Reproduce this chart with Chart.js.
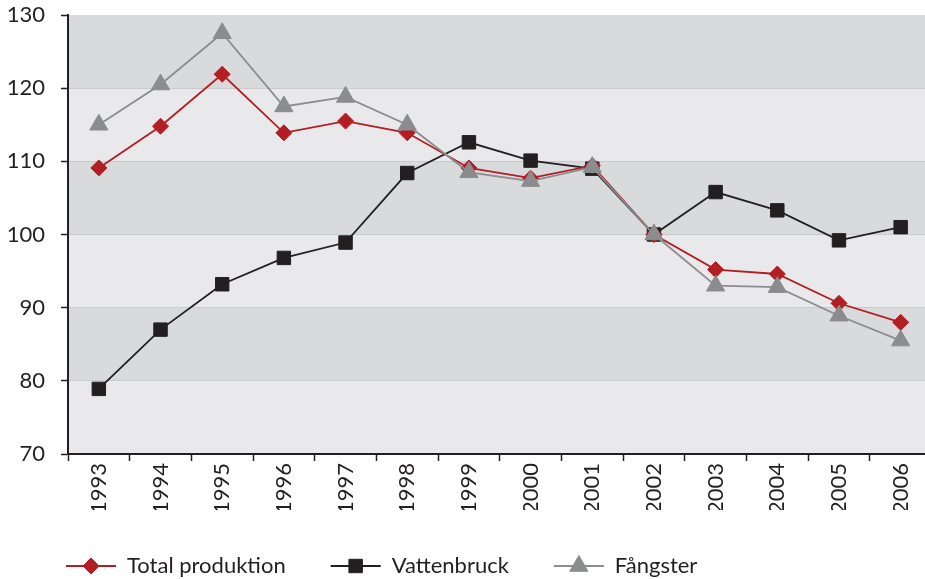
<!DOCTYPE html>
<html>
<head>
<meta charset="utf-8">
<script src="https://cdn.jsdelivr.net/npm/chart.js@4"></script>
<style>
  html, body { margin: 0; padding: 0; background: #fff; overflow: hidden; }
  #wrap { width: 943px; height: 587px; }
</style>
</head>
<body>
<div id="wrap"><canvas id="myChart" width="943" height="587"></canvas></div>
<script>
// data (index values)
const years = ['1993', '1994', '1995', '1996', '1997', '1998', '1999', '2000', '2001', '2002', '2003', '2004', '2005', '2006'];
const totalProduktion = [109.1, 114.8, 121.9, 113.9, 115.5, 113.9, 109.1, 107.7, 109.4, 100.0, 95.2, 94.6, 90.6, 88.0];
const vattenbruck = [78.9, 87.0, 93.2, 96.8, 98.9, 108.4, 112.6, 110.1, 109.0, 100.0, 105.8, 103.3, 99.2, 101.0];
const fangster = [115.0, 120.5, 127.5, 117.5, 118.8, 115.0, 108.5, 107.3, 109.2, 100.0, 93.0, 92.8, 88.9, 85.5];

const textColor = '#231f20';
const bandDark = '#d9dadc';
const bandLight = '#e9e9eb';

Chart.defaults.font.family = 'Lato';
Chart.defaults.font.size = 22;
Chart.defaults.color = textColor;

// grey bands behind the plot, every 10 units
const bands = {
    id: 'bands',
    beforeDraw(chart) {
        const ctx = chart.ctx;
        const area = chart.chartArea;
        const y = chart.scales.y;
        for (let v = y.min; v < y.max; v += 10) {
            const top = y.getPixelForValue(v + 10);
            const bottom = y.getPixelForValue(v);
            ctx.fillStyle = ((v - y.min) / 10) % 2 === 0 ? bandLight : bandDark;
            ctx.fillRect(area.left, top, area.right - area.left, bottom - top);
        }
    }
};

// legend starts a bit further in than the chart's left edge
const legendShift = {
    id: 'legendShift',
    afterLayout(chart) {
        chart.legend.left = 21;
    }
};

// put each series marker on top of its legend line
const legendMarkers = {
    id: 'legendMarkers',
    afterDraw(chart) {
        const legend = chart.legend;
        const boxW = legend.options.labels.boxWidth;
        legend.legendItems.forEach((item, i) => {
            const box = legend.legendHitBoxes[i];
            const ds = chart.data.datasets[item.datasetIndex];
            chart.ctx.save();
            chart.ctx.fillStyle = ds.borderColor;
            chart.ctx.strokeStyle = ds.borderColor;
            Chart.helpers.drawPoint(chart.ctx, {
                pointStyle: ds.pointStyle,
                radius: ds.pointRadius,
                rotation: 0,
                borderWidth: 1
            }, box.left + boxW / 2, box.top + box.height / 2);
            chart.ctx.restore();
        });
    }
};

function series(label, data, color, style, radius, order) {
    return {
        label: label,
        data: data,
        borderColor: color,
        backgroundColor: color,
        borderWidth: 1.8,
        pointStyle: style,
        pointRadius: radius,
        pointHoverRadius: radius,
        pointBackgroundColor: color,
        pointBorderColor: color,
        pointBorderWidth: 1,
        tension: 0,
        order: order
    };
}

myChart = new Chart(document.getElementById('myChart'), {
    type: 'line',
    data: {
        labels: years,
        datasets: [
            series('Total produktion', totalProduktion, '#b21e24', 'rectRot', 8, 1),
            series('Vattenbruck', vattenbruck, '#231f20', 'rect', 9.5, 2),
            series('Fångster', fangster, '#8b8c8e', 'triangle', 10.5, 0)
        ]
    },
    options: {
        responsive: false,
        animation: false,
        layout: { padding: { left: 0, top: 15, right: 0, bottom: 0 } },
        scales: {
            x: {
                offset: true,
                grid: {
                    offset: true,
                    drawOnChartArea: false,
                    drawTicks: true,
                    tickLength: 7,
                    tickColor: textColor,
                    tickWidth: 1.5
                },
                border: { color: textColor, width: 2 },
                ticks: { minRotation: 90, maxRotation: 90, padding: 2, autoSkip: false },
                afterFit(scale) { scale.height = 56; }
            },
            y: {
                min: 70,
                max: 130,
                ticks: { stepSize: 10, padding: 16 },
                grid: {
                    color: (c) => (c.tick && (c.tick.value === 130 || c.tick.value === 70)) ? 'rgba(0,0,0,0)' : '#c9cacc',
                    lineWidth: 1,
                    tickLength: 7,
                    tickColor: textColor,
                    tickWidth: 1.5
                },
                border: { color: textColor, width: 2 },
                afterFit(scale) {
                    scale.width = 68;
                    scale.paddingTop = 0;
                    scale.paddingBottom = 0;
                }
            }
        },
        plugins: {
            tooltip: { enabled: false },
            legend: {
                position: 'bottom',
                align: 'start',
                labels: {
                    boxWidth: 50,
                    boxHeight: 2,
                    padding: 45,
                    color: textColor,
                    sort: (a, b) => a.datasetIndex - b.datasetIndex,
                    generateLabels(chart) {
                        const items = Chart.defaults.plugins.legend.labels.generateLabels(chart);
                        items.forEach((it) => { it.fillStyle = it.strokeStyle; it.lineWidth = 0; });
                        return items;
                    }
                }
            }
        }
    },
    plugins: [bands, legendShift, legendMarkers]
});
</script>
</body>
</html>
